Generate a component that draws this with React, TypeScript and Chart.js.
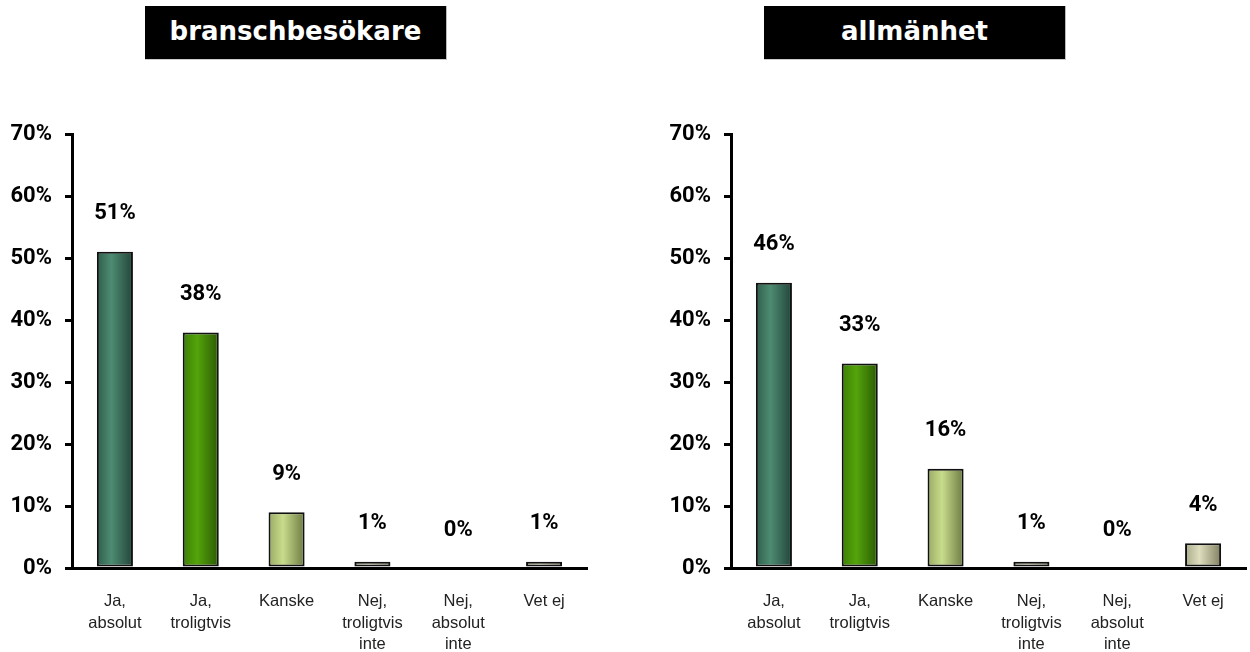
import React, { useEffect, useRef } from "react";
import { Chart, registerables } from "chart.js";

Chart.register(...registerables);

const categories: string[][] = [
  ["Ja,", "absolut"],
  ["Ja,", "troligtvis"],
  ["Kanske"],
  ["Nej,", "troligtvis", "inte"],
  ["Nej,", "absolut", "inte"],
  ["Vet ej"],
];
const branschValues = [51, 38, 9, 1, 0, 1];
const allmanhetValues = [46, 33, 16, 1, 0, 4];
const yMin = 0;
const yMax = 70;
const yStep = 10;
const titleLeft = "branschbesökare";
const titleRight = "allmänhet";

const barStops: string[][] = [
  ["#2f5e4c", "#4d8c72", "#23443a"],
  ["#3d7f06", "#54a40a", "#2a5a04"],
  ["#98aa62", "#c8dc8c", "#6c7a42"],
  ["#a8aa88", "#dedebe", "#808060"],
  ["#a8aa88", "#dedebe", "#808060"],
  ["#a8aa88", "#dedebe", "#808060"],
];

const BAR_PCT = 0.42;
const LABEL_FONT = "Roboto, 'Open Sans', sans-serif";

const dataLabelPlugin = {
  id: "dataLabels",
  afterDatasetsDraw(chart: any) {
    const ctx = chart.ctx;
    const meta = chart.getDatasetMeta(0);
    const data = chart.data.datasets[0].data;
    ctx.save();
    ctx.font = `bold 22px ${LABEL_FONT}`;
    ctx.fillStyle = "#000";
    ctx.textAlign = "center";
    ctx.textBaseline = "middle";
    meta.data.forEach((bar: any, i: number) => {
      ctx.fillText(`${data[i]}%`, bar.x, bar.y - 38);
    });
    ctx.restore();
  },
};

function BarPanel({ values, width, padRight }: { values: number[]; width: number; padRight: number }) {
  const ref = useRef<HTMLCanvasElement | null>(null);
  useEffect(() => {
    if (!ref.current) return;
    const chart = new Chart(ref.current, {
      type: "bar",
      data: {
        labels: categories,
        datasets: [
          {
            data: values,
            backgroundColor: (c: any) => {
              const stops = barStops[c.dataIndex] || barStops[0];
              const ch = c.chart;
              const area = ch.chartArea;
              const xs = ch.scales && ch.scales.x;
              if (!area || !xs || c.dataIndex === undefined) return stops[1];
              const cx = xs.getPixelForValue(c.dataIndex);
              const w = (area.width / categories.length) * BAR_PCT;
              const g = ch.ctx.createLinearGradient(cx - w / 2, 0, cx + w / 2, 0);
              g.addColorStop(0, stops[0]);
              g.addColorStop(0.4, stops[1]);
              g.addColorStop(1, stops[2]);
              return g;
            },
            borderColor: "#111",
            borderWidth: 2,
            borderSkipped: false,
            barPercentage: BAR_PCT,
            categoryPercentage: 1,
          },
        ],
      },
      options: {
        responsive: false,
        animation: false,
        devicePixelRatio: 1,
        layout: { padding: { top: 134, right: padRight, left: 0, bottom: 0 } },
        plugins: { legend: { display: false }, tooltip: { enabled: false }, title: { display: false } },
        scales: {
          x: {
            grid: { display: false },
            border: { display: true, color: "#000", width: 3 },
            ticks: {
              color: "#222",
              font: { family: "'Liberation Sans', Arial, sans-serif", size: 16.5, lineHeight: 1.3 },
              padding: 15,
              maxRotation: 0,
              autoSkip: false,
            },
            afterFit: (s: any) => {
              s.height = 84;
            },
          },
          y: {
            min: yMin,
            max: yMax,
            grid: { display: true, drawOnChartArea: false, drawTicks: true, tickLength: 7, color: "#000", lineWidth: 3 },
            border: { display: true, color: "#000", width: 3 },
            ticks: {
              stepSize: yStep,
              color: "#000",
              padding: 13,
              font: { family: LABEL_FONT, size: 22, weight: "bold" },
              callback: (v: any) => `${v}%`,
            },
            afterFit: (s: any) => {
              s.width = 72;
            },
          },
        },
      },
      plugins: [dataLabelPlugin],
    } as any);
    return () => chart.destroy();
  }, [values]);
  return <canvas ref={ref} width={width} height={652} style={{ width, height: 652, display: "block" }} />;
}

function TitleBox({ text, left, width }: { text: string; left: number; width: number }) {
  return (
    <div
      style={{
        position: "absolute",
        left,
        top: 6,
        width,
        height: 54,
        background: "#000",
        borderRight: "1px solid #bbb",
        borderBottom: "1px solid #ccc",
        boxSizing: "border-box",
        color: "#fff",
        fontFamily: "'DejaVu Sans', sans-serif",
        fontWeight: "bold",
        fontSize: 26,
        lineHeight: "50px",
        textAlign: "center",
        whiteSpace: "nowrap",
      }}
    >
      {text}
    </div>
  );
}

export default function App() {
  return (
    <div style={{ position: "absolute", left: 0, top: 0, width: 1250, height: 652, background: "#fff", overflow: "hidden" }}>
      <div style={{ position: "absolute", left: 0, top: 0 }}>
        <BarPanel values={branschValues} width={659} padRight={72} />
      </div>
      <div style={{ position: "absolute", left: 659, top: 0 }}>
        <BarPanel values={allmanhetValues} width={591} padRight={4} />
      </div>
      <TitleBox text={titleLeft} left={145} width={302} />
      <TitleBox text={titleRight} left={764} width={302} />
    </div>
  );
}
